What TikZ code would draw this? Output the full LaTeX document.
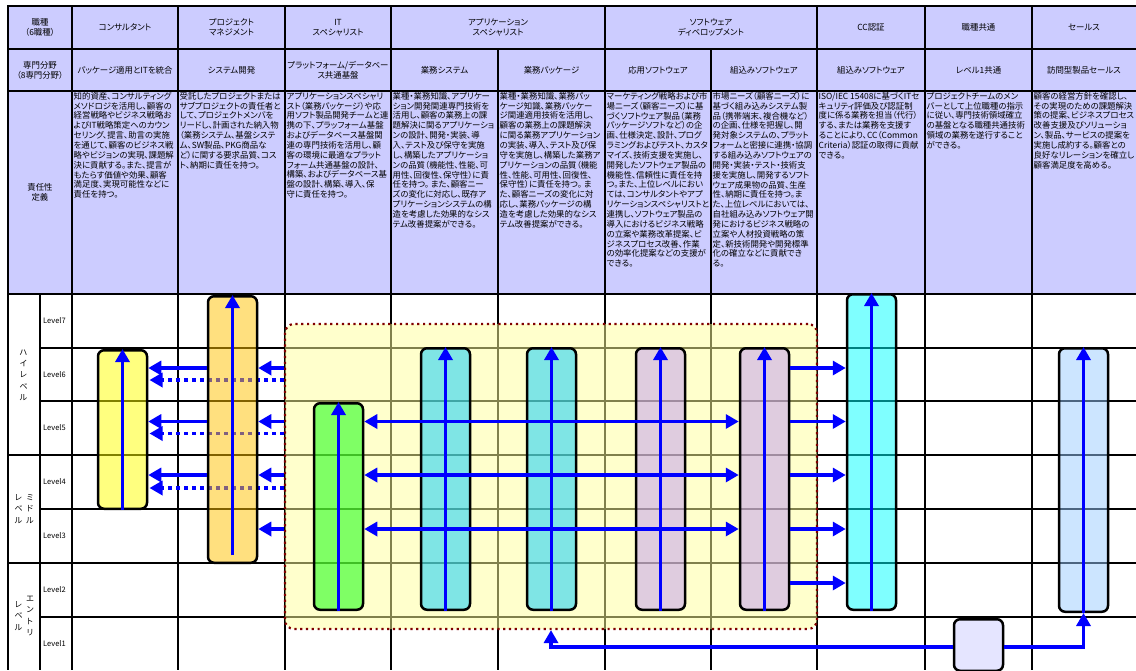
\documentclass[tikz,border=0pt]{standalone}
\usepackage{fontspec}
\setmainfont{Noto Sans CJK JP}[RawFeature=+palt]
\usetikzlibrary{arrows.meta,calc}

\definecolor{hdr}{RGB}{204,204,255}
\definecolor{arrblue}{RGB}{0,0,255}
\definecolor{regfill}{RGB}{255,255,153}
\definecolor{regline}{RGB}{128,0,0}
\definecolor{cyellow}{RGB}{255,255,0}
\definecolor{corange}{RGB}{255,193,0}
\definecolor{cgreen}{RGB}{0,255,0}
\definecolor{capp}{RGB}{0,204,255}
\definecolor{csw}{RGB}{193,153,244}
\definecolor{ccc}{RGB}{0,255,255}
\definecolor{csales}{RGB}{153,203,255}
\definecolor{ccommon}{RGB}{203,203,255}

\tikzset{
 bt/.tip={Triangle[length=13pt,width=14pt]},
 gridline/.style={line width=1.2pt, black},
 thickline/.style={line width=2.2pt, black},
 skill/.style={draw=black, line width=2.5pt, rounded corners=6pt, fill opacity=0.5, minimum width=49pt, inner sep=0pt},
 region/.style={draw=regline, line width=2.2pt, dash pattern=on 2.2pt off 3.6pt, rounded corners=9pt, fill=regfill, fill opacity=0.5, inner sep=0pt},
 arr/.style={draw=arrblue, line width=3.5pt, -bt},
 darr/.style={draw=arrblue, line width=3.5pt, bt-bt},
 dotarr/.style={draw=arrblue, line width=3.5pt, -bt, dash pattern=on 4pt off 4pt},
 hdrtxt/.style={font=\fontsize{8.4}{10}\selectfont, align=center, inner sep=0pt},
 desc/.style={font=\fontsize{8.4}{9.85}\selectfont, align=left, inner sep=0pt, anchor=north west},
 lvl/.style={font=\fontsize{7.5}{9}\selectfont, anchor=west, inner sep=0pt},
 vlab/.style={font=\fontsize{8}{11.3}\selectfont, align=center, inner sep=0pt},
}

\begin{document}
\begin{tikzpicture}[x=1pt,y=-1pt]
\path[use as bounding box] (0,0) rectangle (1136,670);
\clip (0,0) rectangle (1136,670);

% header background
\fill[hdr] (8,6) rectangle (1136,294);

% grid in level area
\foreach \yy in {348,401,509,617} \draw[gridline] (40,\yy) -- (1136,\yy);
\foreach \yy in {455,563} \draw[gridline] (8,\yy) -- (1136,\yy);
\foreach \xx in {40,72,178,285,391,498,605,711,817,925,1032} \draw[gridline] (\xx,294) -- (\xx,670);
% header lines
\foreach \xx in {72,178,285,391,605,817,925,1032} \draw[thickline] (\xx,6) -- (\xx,294);
\foreach \xx in {498,711} \draw[thickline] (\xx,49) -- (\xx,294);
\foreach \yy in {49,91,294} \draw[thickline] (8,\yy) -- (1136,\yy);
\draw[line width=2.8pt] (1136,6) -- (8,6) -- (8,670);

% header row 1
\node[hdrtxt] (h0) at (40,27.5) {職種\\（6職種）};
\node[hdrtxt] (h1) at (125,27.5) {コンサルタント};
\node[hdrtxt] (h2) at (231.5,27.5) {プロジェクト\\マネジメント};
\node[hdrtxt] (h3) at (338,27.5) {IT\\スペシャリスト};
\node[hdrtxt] (h4) at (498,27.5) {アプリケーション\\スペシャリスト};
\node[hdrtxt] (h5) at (711,27.5) {ソフトウェア\\ディベロップメント};
\node[hdrtxt] (h6) at (871,27.5) {CC認証};
\node[hdrtxt] (h7) at (978.5,27.5) {職種共通};
\node[hdrtxt] (h8) at (1084,27.5) {セールス};
% header row 2
\node[hdrtxt] (s0) at (40,70) {専門分野\\（8専門分野）};
\node[hdrtxt] (s1) at (125,70) {パッケージ適用とITを統合};
\node[hdrtxt] (s2) at (231.5,70) {システム開発};
\node[hdrtxt] (s3) at (338,70) {プラットフォーム/データベー\\ス共通基盤};
\node[hdrtxt] (s4) at (444.5,70) {業務システム};
\node[hdrtxt] (s5) at (551.5,70) {業務パッケージ};
\node[hdrtxt] (s6) at (658,70) {応用ソフトウェア};
\node[hdrtxt] (s7) at (764,70) {組込みソフトウェア};
\node[hdrtxt] (s8) at (871,70) {組込みソフトウェア};
\node[hdrtxt] (s9) at (978.5,70) {レベル1共通};
\node[hdrtxt] (s10) at (1084,70) {訪問型製品セールス};
% header row 3
\node[hdrtxt] (r0) at (40,192) {責任性\\定義};
\node[desc] (d1) at (73.5,92) {知的資産、コンサルティング\\メソドロジを活用し、顧客の\\経営戦略やビジネス戦略お\\よびIT戦略策定へのカウン\\セリング、提言、助言の実施\\を通じて、顧客のビジネス戦\\略やビジョンの実現、課題解\\決に貢献する。また、提言が\\もたらす価値や効果、顧客\\満足度、実現可能性などに\\責任を持つ。};
\node[desc] (d2) at (179.5,92) {受託したプロジェクトまたは\\サブプロジェクトの責任者と\\して、プロジェクトメンバを\\リードし、計画された納入物\\（業務システム、基盤システ\\ム、SW製品、PKG商品な\\ど）に関する要求品質、コス\\ト、納期に責任を持つ。};
\node[desc] (d3) at (286.5,92) {アプリケーションスペシャリ\\スト（業務パッケージ）や応\\用ソフト製品開発チームと連\\携の下、プラッフォーム基盤\\およびデータベース基盤関\\連の専門技術を活用し、顧\\客の環境に最適なプラット\\フォーム共通基盤の設計、\\構築、およびデータベース基\\盤の設計、構築、導入、保\\守に責任を持つ。};
\node[desc] (d4) at (392.5,92) {業種・業務知識、アプリケー\\ション開発関連専門技術を\\活用し、顧客の業務上の課\\題解決に関るアプリケーショ\\ンの設計、開発・実装、導\\入、テスト及び保守を実施\\し、構築したアプリケーショ\\ンの品質（機能性、性能、可\\用性、回復性、保守性）に責\\任を持つ。 また、顧客ニー\\ズの変化に対応し、既存ア\\プリケーションシステムの構\\造を考慮した効果的なシス\\テム改善提案ができる。};
\node[desc] (d5) at (499.5,92) {業種・業務知識、業務パッ\\ケージ知識、業務パッケー\\ジ関連適用技術を活用し、\\顧客の業務上の課題解決\\に関る業務アプリケーション\\の実装、導入、テスト及び保\\守を実施し、構築した業務ア\\プリケーションの品質（機能\\性、性能、可用性、回復性、\\保守性）に責任を持つ。 ま\\た、顧客ニーズの変化に対\\応し、業務パッケージの構\\造を考慮した効果的なシス\\テム改善提案ができる。};
\node[desc] (d6) at (606.5,92) {マーケティング戦略および市\\場ニーズ（顧客ニーズ）に基\\づくソフトウェア製品（業務\\パッケージソフトなど）の企\\画、仕様決定、設計、プログ\\ラミングおよびテスト、カスタ\\マイズ、技術支援を実施し、\\開発したソフトウェア製品の\\機能性、信頼性に責任を持\\つ。また、上位レベルにおい\\ては、コンサルタントやアプ\\リケーションスペシャリストと\\連携し、ソフトウェア製品の\\導入におけるビジネス戦略\\の立案や業務改革提案、ビ\\ジネスプロセス改善、作業\\の効率化提案などの支援が\\できる。};
\node[desc] (d7) at (712.5,92) {市場ニーズ（顧客ニーズ）に\\基づく組み込みシステム製\\品（携帯端末、複合機など）\\の企画、仕様を把握し、開\\発対象システムの、プラット\\フォームと密接に連携・協調\\する組み込みソフトウェアの\\開発・実装・テスト・技術支\\援を実施し、開発するソフト\\ウェア成果物の品質、生産\\性、納期に責任を持つ。ま\\た、上位レベルにおいては、\\自社組み込みソフトウェア開\\発におけるビジネス戦略の\\立案や人材投資戦略の策\\定、新技術開発や開発標準\\化の確立などに貢献でき\\る。};
\node[desc] (d8) at (818.5,92) {ISO/IEC 15408に基づくITセ\\キュリティ評価及び認証制\\度に係る業務を担当（代行）\\する、または業務を支援す\\ることにより、CC（Common\\Criteria）認証の取得に貢献\\できる。};
\node[desc] (d9) at (926.5,92) {プロジェクトチームのメン\\バーとして上位職種の指示\\に従い、専門技術領域確立\\の基盤となる職種共通技術\\領域の業務を遂行すること\\ができる。};
\node[desc] (d10) at (1033.5,92) {顧客の経営方針を確認し、\\その実現のための課題解決\\策の提案、ビジネスプロセス\\改善支援及びソリューショ\\ン、製品、サービスの提案を\\実施し成約する。顧客との\\良好なリレーションを確立し\\顧客満足度を高める。};

% level labels
\node[lvl] (l7) at (43,321) {Level7};
\node[lvl] (l6) at (43,374.5) {Level6};
\node[lvl] (l5) at (43,428) {Level5};
\node[lvl] (l4) at (43,482) {Level4};
\node[lvl] (l3) at (43,536) {Level3};
\node[lvl] (l2) at (43,590) {Level2};
\node[lvl] (l1) at (43,644) {Level1};
\node[vlab] (gh) at (23.5,375) {ハ\\イ\\レ\\ベ\\ル};
\node[vlab] (gm1) at (30,509) {ミ\\ド\\ル};
\node[vlab] (gm2) at (18.5,509) {レ\\ベ\\ル};
\node[vlab] (ge1) at (30,616) {エ\\ン\\ト\\リ};
\node[vlab] (ge2) at (18.5,616) {レ\\ベ\\ル};

% arrow rows
\coordinate (y6) at (0,368);
\coordinate (y5) at (0,421.5);
\coordinate (y4) at (0,475);
\coordinate (y3) at (0,529);
\coordinate (y2) at (0,583);
\coordinate (q6) at (0,380);
\coordinate (q5) at (0,433.5);
\coordinate (q4) at (0,488);

% group region
\node[region, minimum width=532pt, minimum height=305pt] (grp) at (551,476.5) {};

% dotted arrows (under the PM box)
\coordinate (cE) at (149.5,0);
\foreach \q in {q6,q5,q4} \draw[dotarr] (grp.west |- \q) -- (cE |- \q);

% skill boxes
\node[skill, fill=cyellow, minimum height=158.5pt] (cons) at (122.5,429.5) {};
\node[skill, fill=corange, minimum height=266.5pt] (pm) at (232.5,429.5) {};
\node[skill, fill=cgreen, minimum height=206.5pt] (it) at (338.5,506.5) {};
\node[skill, fill=capp, minimum height=261.5pt] (app1) at (445.5,479) {};
\node[skill, fill=capp, minimum height=261.5pt] (app2) at (551.5,479) {};
\node[skill, fill=csw, minimum height=261.5pt] (sw1) at (660.5,479) {};
\node[skill, fill=csw, minimum height=261.5pt] (sw2) at (764.5,479) {};
\node[skill, fill=ccc, minimum height=315.5pt] (cc) at (871.5,452) {};
\node[skill, fill=csales, minimum height=263.5pt] (sales) at (1083.5,480) {};
\node[skill, fill=ccommon, minimum height=51.5pt] (cmn) at (978.5,645) {};

% vertical arrows
\foreach \b in {cons,it,app1,app2,sw1,sw2,cc,sales} \draw[arr] (\b.south) -- (\b.north);
\draw[arr] ([yshift=9pt]pm.south) -- (pm.north);

% horizontal arrows
\foreach \r in {y6,y5,y4} \draw[arr] (pm.west |- \r) -- (cons.east |- \r);
\foreach \r in {y6,y5,y4,y3} \draw[arr] (grp.west |- \r) -- (pm.east |- \r);
\foreach \r in {y5,y4,y3} \draw[darr] (it.east |- \r) -- (sw2.west |- \r);
\foreach \r in {y6,y5,y4,y3,y2} \draw[arr] (sw2.east |- \r) -- (cc.west |- \r);

% bottom connectors
\draw[arr] ([yshift=-2pt]cmn.west) -| (grp.south);
\draw[arr] ([yshift=-2pt]cmn.east) -| (sales.south);
\end{tikzpicture}
\end{document}
